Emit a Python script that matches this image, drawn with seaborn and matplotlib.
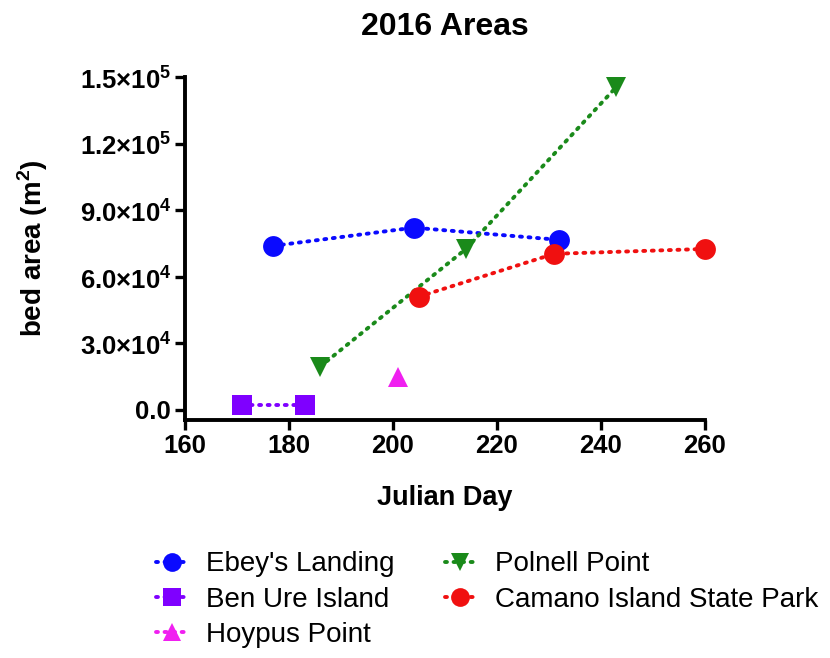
import matplotlib
matplotlib.use("Agg")
import matplotlib.pyplot as plt
import numpy as np
import pandas as pd
import seaborn as sns
from matplotlib.ticker import FuncFormatter

# values
ebey_day = [177, 204, 232]
ebey_area = [73900, 82100, 76600]
benure_day = [171, 183]
benure_area = [2300, 2300]
hoypus_day = [201]
hoypus_area = [15000]
polnell_day = [186, 214, 243]
polnell_area = [19500, 72400, 145500]
camano_day = [205, 231, 260]
camano_area = [51000, 70300, 72500]

x_ticks = [160, 180, 200, 220, 240, 260]
y_ticks = [0, 30000, 60000, 90000, 120000, 150000]

series = [
    ("Ebey's Landing", ebey_day, ebey_area, "#0a0aff", "o"),
    ("Ben Ure Island", benure_day, benure_area, "#7f00ff", "s"),
    ("Hoypus Point", hoypus_day, hoypus_area, "#f020f0", "^"),
    ("Polnell Point", polnell_day, polnell_area, "#1a8a1a", "v"),
    ("Camano Island State Park", camano_day, camano_area, "#f01010", "o"),
]

sns.set_theme(style="ticks", rc={"text.color": "black", "axes.labelcolor": "black",
                                 "xtick.color": "black", "ytick.color": "black"})
plt.rcParams["font.family"] = ["Liberation Sans", "DejaVu Sans"]
plt.rcParams["mathtext.fontset"] = "custom"
plt.rcParams["mathtext.rm"] = "Liberation Sans:bold"
plt.rcParams["mathtext.bf"] = "Liberation Sans:bold"

fig = plt.figure(figsize=(8.3, 6.58), dpi=100)
ax = fig.add_axes([0.223, 0.362, 0.626, 0.521])

for name, days, areas, colour, marker in series:
    df = pd.DataFrame({"day": days, "area": areas})
    sns.lineplot(data=df, x="day", y="area", ax=ax, color=colour, marker=marker,
                 markersize=15, markeredgewidth=0, linewidth=2.8,
                 dashes=False, label=name)
    line = ax.lines[-1]
    line.set_linestyle((0, (0.5, 1.7)))
    line.set_dash_capstyle("round")
    line.set_clip_on(False)

handles, labels = ax.get_legend_handles_labels()
ax.get_legend().remove()

ax.set_xlim(160, 260)
ax.set_ylim(-4500, 150000)
ax.set_xticks(x_ticks)
ax.set_yticks(y_ticks)


def sci_fmt(v, _pos):
    if v == 0:
        return "0.0"
    exp = int(np.floor(np.log10(v)))
    mant = v / 10 ** exp
    return rf"${mant:.1f}{{\times}}10^{{{exp}}}$"


ax.yaxis.set_major_formatter(FuncFormatter(sci_fmt))
for lab in ax.get_xticklabels() + ax.get_yticklabels():
    lab.set_fontweight("bold")
ax.tick_params(labelsize=18.5, width=2.4, length=7, color="black", pad=3)

for side in ("top", "right"):
    ax.spines[side].set_visible(False)
for side in ("left", "bottom"):
    ax.spines[side].set_linewidth(2.8)
    ax.spines[side].set_color("black")

ax.set_xlabel("Julian Day", fontsize=19.5, fontweight="bold")
ax.xaxis.set_label_coords(0.5, -0.19)
ax.set_ylabel(r"bed area (m$^\mathbf{2}$)", fontsize=20, fontweight="bold")
ax.yaxis.set_label_coords(-0.26, 0.5)
ax.set_title("2016 Areas", fontsize=23, fontweight="bold", pad=30)

fig.legend(handles, labels, loc="upper left",
           bbox_to_anchor=(137 / 830, 1 - 532 / 658), ncol=2,
           frameon=False, fontsize=20, handlelength=1.1, handletextpad=0.7,
           columnspacing=1.8, labelspacing=0.33, markerscale=0.9,
           borderpad=0.2)

fig.savefig("out.png", dpi=100)
